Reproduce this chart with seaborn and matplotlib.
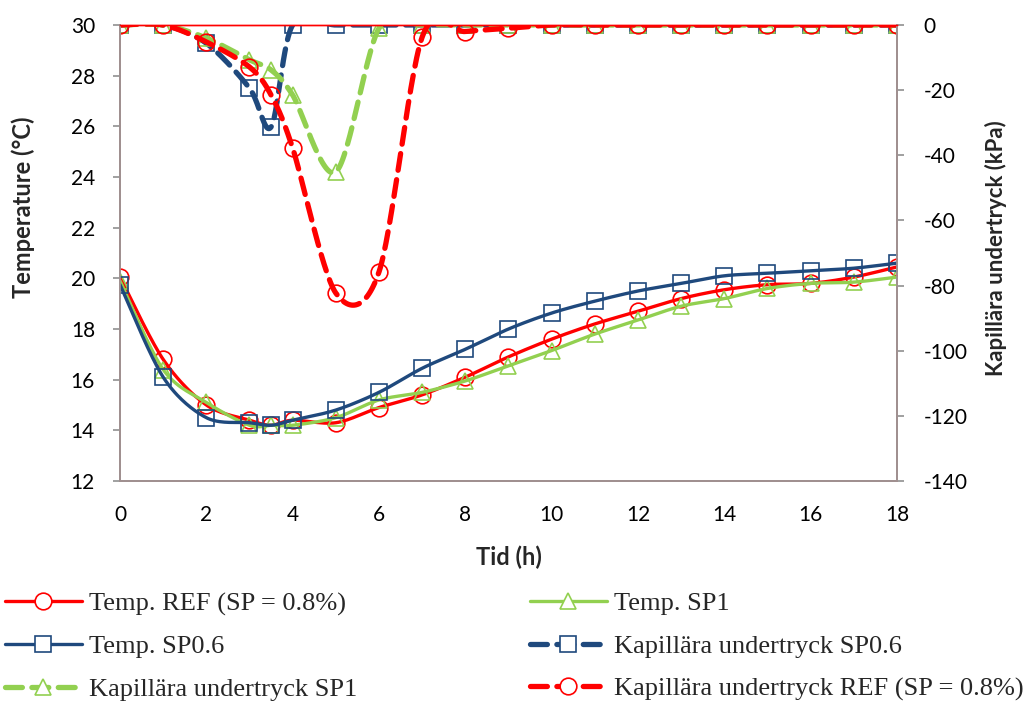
import numpy as np
import pandas as pd
import matplotlib
matplotlib.use("Agg")
import matplotlib.pyplot as plt
from matplotlib.lines import Line2D
import seaborn as sns

# ---------------- data ----------------
hours = [0, 1, 2, 3, 3.5, 4, 5, 6, 7, 8, 9, 10, 11, 12, 13, 14, 15, 16, 17, 18]

temp_ref = [20.05, 16.8, 15.0, 14.4, 14.2, 14.4, 14.3, 14.9, 15.4, 16.1, 16.9, 17.6,
            18.2, 18.7, 19.2, 19.55, 19.75, 19.8, 20.05, 20.45]
temp_sp1 = [19.9, 16.4, 15.1, 14.2, 14.2, 14.2, 14.5, 15.2, 15.5, 15.95, 16.55, 17.15,
            17.8, 18.35, 18.9, 19.2, 19.6, 19.8, 19.85, 20.05]
temp_sp06 = [19.75, 16.1, 14.5, 14.3, 14.2, 14.4, 14.8, 15.5, 16.45, 17.2, 18.0, 18.63,
             19.1, 19.5, 19.8, 20.1, 20.2, 20.3, 20.4, 20.6]

kap_sp06 = [0, 0, -5.6, -19.4, -31.3, 0, 0, 0, 0, 0, 0, 0, 0, 0, 0, 0, 0, 0, 0, 0]
kap_sp1 = [0, 0, -4.0, -10.7, -13.8, -21.5, -45.1, -1.0, 0, 0, 0, 0, 0, 0, 0, 0, 0, 0, 0, 0]
kap_ref = [0, 0, -5.2, -12.9, -21.5, -37.8, -82.3, -75.8, -3.7, -2.0, -1.0, 0, 0, 0, 0,
           0, 0, 0, 0, 0]

labels = {
    "temp_ref": "Temp. REF (SP = 0.8%)",
    "temp_sp1": "Temp. SP1",
    "temp_sp06": "Temp. SP0.6",
    "kap_sp06": "Kapillära undertryck SP0.6",
    "kap_sp1": "Kapillära undertryck SP1",
    "kap_ref": "Kapillära undertryck REF (SP = 0.8%)",
}

x_ticks = list(range(0, 19, 2))
temp_ticks = list(range(12, 31, 2))
kap_ticks = list(range(-140, 1, 20))

RED = "#FF0000"
GREEN = "#92D050"
BLUE = "#1F497D"
SPINE = "#A09090"


def smooth(xs, ys, n=30, k=1 / 6.5):
    """Excel-like smoothed line (Catmull-Rom -> cubic Bezier) for drawing."""
    P = np.column_stack([xs, ys]).astype(float)
    out = []
    for i in range(len(P) - 1):
        p0 = P[i - 1] if i > 0 else P[i]
        p1 = P[i]
        p2 = P[i + 1]
        p3 = P[i + 2] if i + 2 < len(P) else P[i + 1]
        c1 = p1 + (p2 - p0) * k
        c2 = p2 - (p3 - p1) * k
        t = np.linspace(0, 1, n, endpoint=(i == len(P) - 2))[:, None]
        seg = ((1 - t) ** 3) * p1 + 3 * ((1 - t) ** 2) * t * c1 + 3 * (1 - t) * t ** 2 * c2 + t ** 3 * p2
        out.append(seg)
    S = np.vstack(out)
    return pd.DataFrame({"x": S[:, 0], "y": S[:, 1]})


sns.set_theme(style="white")
plt.rcParams["font.family"] = ["Lato", "DejaVu Sans"]

fig = plt.figure(figsize=(10.29, 7.06), dpi=100)
ax = fig.add_axes([120 / 1029, 1 - 481 / 706, (897 - 120) / 1029, (481 - 25) / 706])
ax2 = ax.twinx()

temp_lw = 2.4
kap_lw = 3.8
ms = 12
mew = 1.2

temp_series = [
    (temp_ref, RED, "o"),
    (temp_sp1, GREEN, "^"),
    (temp_sp06, BLUE, "s"),
]
kap_series = [
    (kap_sp06, BLUE, "s"),
    (kap_sp1, GREEN, "^"),
    (kap_ref, RED, "o"),
]

for ys, col, mk in temp_series:
    d = smooth(hours, ys)
    sns.lineplot(data=d, x="x", y="y", ax=ax, color=col, lw=temp_lw, sort=False,
                 estimator=None, legend=False)
    ax.plot(hours, ys, linestyle="none", marker=mk, ms=ms, mfc="none", mec=col, mew=mew)

for ys, col, mk in kap_series:
    d = smooth(hours, ys)
    sns.lineplot(data=d, x="x", y="y", ax=ax2, color=col, lw=kap_lw, sort=False,
                 estimator=None, legend=False, dashes=False)
    ax2.lines[-1].set_dashes([3.2, 1.8])
    ax2.lines[-1].set_dash_capstyle("round")
    ax2.plot(hours, ys, linestyle="none", marker=mk, ms=ms, mfc="none", mec=col, mew=mew)

ax.set_xlim(0, 18)
ax.set_ylim(12, 30)
ax2.set_ylim(-140, 0)
ax.set_xticks(x_ticks)
ax.set_yticks(temp_ticks)
ax2.set_yticks(kap_ticks)
ax.set_xticklabels([str(v) for v in x_ticks])
ax.set_yticklabels([str(v) for v in temp_ticks])
ax2.set_yticklabels([str(v) for v in kap_ticks])

for a in (ax, ax2):
    a.tick_params(axis="both", which="major", labelsize=15, direction="out", length=5,
                  width=1.2, color="#909090", labelcolor="black", pad=6)
    for s in ("left", "right", "bottom"):
        a.spines[s].set_color(SPINE)
        a.spines[s].set_linewidth(1.3)
    a.spines["top"].set_color(RED)
    a.spines["top"].set_linewidth(1.0)
    a.grid(False)
    a.set_facecolor("none")
ax.tick_params(axis="x", pad=12)
ax.tick_params(axis="y", pad=13)
ax2.tick_params(axis="y", pad=14)
ax.set_zorder(ax2.get_zorder() + 1)

ax.set_xlabel("Tid (h)", fontsize=17, fontweight="bold", labelpad=15)
ax.set_ylabel("")
ax2.set_ylabel("")
fig.text(23 / 1029, 1 - 207 / 706, "Temperature (°C)", rotation=90, ha="center",
         va="center", fontsize=17, fontweight="bold")
fig.text(996 / 1029, 1 - 248 / 706, "Kapillära undertryck (kPa)", rotation=90,
         ha="center", va="center", fontsize=16, fontweight="bold")

# ---------------- legend ----------------
def handle(col, mk, dashed, lw):
    h = Line2D([0], [0], color=col, lw=lw, marker=mk, ms=ms, mfc="white", mec=col, mew=mew)
    if dashed:
        h.set_dashes([3.2, 1.8])
        h.set_dash_capstyle("round")
    return h

col1 = [
    (handle(RED, "o", False, temp_lw), labels["temp_ref"]),
    (handle(BLUE, "s", False, temp_lw), labels["temp_sp06"]),
    (handle(GREEN, "^", True, kap_lw), labels["kap_sp1"]),
]
col2 = [
    (handle(GREEN, "^", False, temp_lw), labels["temp_sp1"]),
    (handle(BLUE, "s", True, kap_lw), labels["kap_sp06"]),
    (handle(RED, "o", True, kap_lw), labels["kap_ref"]),
]
leg_kw = dict(frameon=False, prop={"family": "Liberation Serif", "size": 19},
              handlelength=2.9, handletextpad=0.3, labelspacing=0.72, borderpad=0,
              borderaxespad=0)
l1 = fig.legend([h for h, _ in col1], [t for _, t in col1], loc="upper left",
                bbox_to_anchor=(5 / 1029, 1 - 592 / 706), **leg_kw)
l2 = fig.legend([h for h, _ in col2], [t for _, t in col2], loc="upper left",
                bbox_to_anchor=(530 / 1029, 1 - 592 / 706), **leg_kw)

fig.savefig("out.png", dpi=100)
